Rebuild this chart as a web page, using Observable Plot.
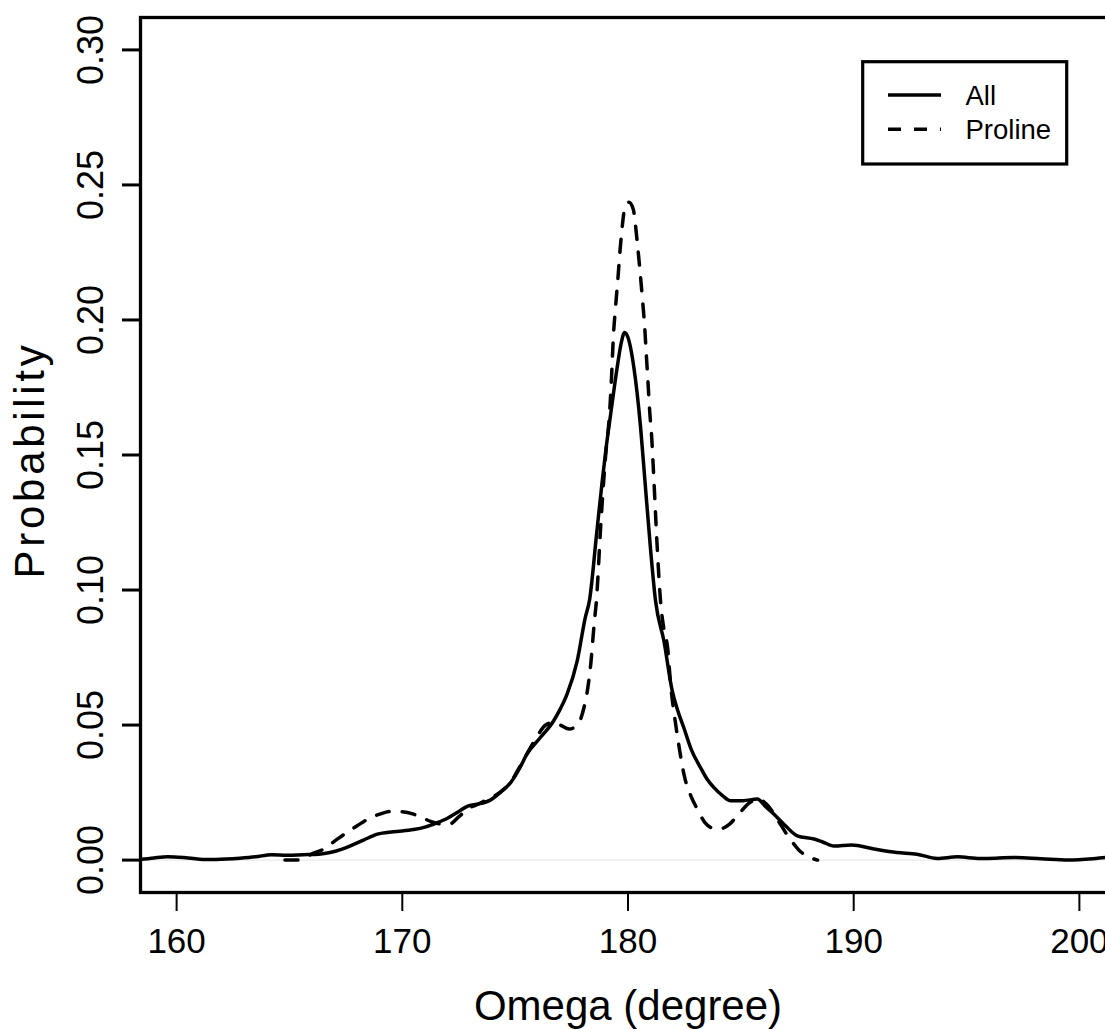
<!DOCTYPE html>
<html>
<head>
<meta charset="utf-8">
<script src="https://cdn.jsdelivr.net/npm/d3@7"></script>
<script src="https://cdn.jsdelivr.net/npm/@observablehq/plot@0.6"></script>
<style>
  html, body { margin: 0; padding: 0; overflow: hidden; background: #fff; }
  #wrap { position: relative; width: 1105px; height: 1030px; overflow: hidden; }
  #chart { width: 1120px; }
  #chart svg { max-width: none !important; }
  #legend { position: absolute; left: 0; top: 0; }
</style>
</head>
<body>
<div id="wrap"><div id="chart"></div><svg id="legend" width="1105" height="200"></svg></div>
<script>
// ---- data ----
const seriesNames = ["All", "Proline"];
const seriesDash = ["none", "13,13"];

const allX = [158.2,159.0,159.6,160.5,161.4,162.2,162.8,163.5,164.2,164.9,165.6,166.3,166.8,167.3,167.7,168.3,168.9,169.6,170.5,171.0,171.5,172.0,172.5,172.9,173.5,173.9,174.4,174.8,175.2,175.5,176.1,176.7,177.0,177.3,177.75,178.1,178.3,178.6,178.86,179.05,179.23,179.52,179.7,179.85,180.0,180.26,180.56,180.75,181.0,181.22,181.59,181.96,182.2,182.47,182.8,183.21,183.5,183.8,184.2,184.54,185.1,185.73,186.1,186.47,187.0,187.5,188.24,188.6,189.13,189.9,190.9,191.9,192.8,193.7,194.6,195.6,196.3,197.1,198.3,199.5,200.6,201.2,201.8];
const allY = [0.0000,0.0008,0.0012,0.0008,0.0002,0.0004,0.0007,0.0012,0.0020,0.0018,0.0020,0.0022,0.0028,0.0040,0.0053,0.0075,0.0096,0.0105,0.0113,0.0122,0.0137,0.0155,0.0180,0.0200,0.0210,0.0222,0.0255,0.0287,0.0340,0.0390,0.0452,0.0515,0.0560,0.0615,0.0738,0.0895,0.0965,0.1200,0.1405,0.1540,0.1650,0.1824,0.1915,0.1954,0.1935,0.1824,0.1600,0.1405,0.1150,0.0960,0.0812,0.0627,0.0555,0.0491,0.0410,0.0343,0.0300,0.0269,0.0238,0.0220,0.0220,0.0226,0.0198,0.0170,0.0125,0.0090,0.0078,0.0068,0.0052,0.0056,0.0041,0.0028,0.0022,0.0006,0.0012,0.0006,0.0007,0.0010,0.0005,0.0000,0.0005,0.0010,0.0013];

const prolineX = [164.8,165.3,165.7,166.0,166.5,167.0,167.5,168.0,168.5,169.0,169.5,170.0,170.5,170.9,171.3,171.7,172.1,172.5,172.9,173.3,173.7,174.1,174.5,174.8,175.1,175.5,176.0,176.35,176.7,177.0,177.4,177.7,177.9,178.05,178.2,178.35,178.5,178.6,178.8,179.0,179.2,179.27,179.35,179.45,179.55,179.65,179.75,179.87,180.04,180.23,180.41,180.53,180.64,180.74,180.81,180.89,180.96,181.05,181.12,181.3,181.44,181.6,181.75,181.9,182.1,182.3,182.5,182.8,183.07,183.4,183.9,184.2,184.5,184.9,185.4,185.8,186.1,186.4,186.7,187.0,187.3,187.6,188.0,188.4];
const prolineY = [0.0000,0.0000,0.0010,0.0023,0.0040,0.0070,0.0100,0.0127,0.0153,0.0170,0.0180,0.0179,0.0170,0.0156,0.0142,0.0134,0.0134,0.0160,0.0190,0.0205,0.0222,0.0238,0.0262,0.0287,0.0330,0.0390,0.0462,0.0500,0.0510,0.0500,0.0485,0.0498,0.0522,0.0565,0.0627,0.0726,0.0874,0.0960,0.1250,0.1490,0.1676,0.1787,0.1935,0.2050,0.2150,0.2260,0.2350,0.2420,0.2436,0.2411,0.2287,0.2183,0.2078,0.1973,0.1874,0.1763,0.1664,0.1565,0.1454,0.1150,0.0960,0.0850,0.0790,0.0640,0.0510,0.0400,0.0310,0.0235,0.0189,0.0140,0.0115,0.0118,0.0133,0.0170,0.0213,0.0226,0.0210,0.0180,0.0140,0.0100,0.0065,0.0035,0.0012,0.0000];

const xTicks = [160, 170, 180, 190, 200];
const yTicks = [0, 0.05, 0.10, 0.15, 0.20, 0.25, 0.30];
const xLim = [160, 200];
const yLim = [0, 0.30];
const xLabel = "Omega (degree)";
const yLabel = "Probability";

// ---- build table ----
const rows = [
  ...allX.map((x, i) => ({series: seriesNames[0], x, y: allY[i]})),
  ...prolineX.map((x, i) => ({series: seriesNames[1], x, y: prolineY[i]}))
];
// R-style 4% axis extension
const ext = (l) => { const r = l[1] - l[0]; return [l[0] - 0.04 * r, l[1] + 0.04 * r]; };

const font = "'Liberation Sans', Arial, Helvetica, sans-serif";

const chart = Plot.plot({
  width: 1120,
  height: 1030,
  marginLeft: 140,
  marginRight: 5,
  marginTop: 17,
  marginBottom: 138,
  style: {fontFamily: font, background: "#fff", color: "#000", overflow: "visible", maxWidth: "none"},
  x: {domain: ext(xLim)},
  y: {domain: ext(yLim)},
  marks: [
    Plot.ruleY([0], {stroke: "#e3e3e3", strokeWidth: 1}),
    Plot.line(rows.filter(d => d.series === seriesNames[0]), {
      x: "x", y: "y", stroke: "#000", strokeWidth: 3.5, curve: "monotone-x", clip: true
    }),
    Plot.line(rows.filter(d => d.series === seriesNames[1]), {
      x: "x", y: "y", stroke: "#000", strokeWidth: 3.5, strokeDasharray: seriesDash[1], curve: "monotone-x", clip: true
    }),
    Plot.frame({stroke: "#000", strokeWidth: 3.3}),
    Plot.axisX({ticks: xTicks, tickSize: 19, tickPadding: 17, strokeWidth: 2, fontSize: 35, tickFormat: d => String(d), label: null}),
    Plot.axisY({ticks: yTicks, tickSize: 18, strokeWidth: 3, tickFormat: () => "", label: null}),
    Plot.text(yTicks, {
      y: d => d, text: d => d.toFixed(2), frameAnchor: "left", dx: -38,
      rotate: -90, textAnchor: "middle", lineAnchor: "bottom", fontSize: 36, fill: "#000"
    }),
    Plot.text([xLabel], {
      text: d => d, frameAnchor: "bottom", dy: 127, lineAnchor: "bottom", fontSize: 42, fill: "#000"
    }),
    Plot.text([yLabel], {
      text: d => d, frameAnchor: "left", dx: -97, dy: 5, rotate: -90, lineAnchor: "bottom",
      textAnchor: "middle", fontSize: 42, fill: "#000"
    })
  ]
});
document.getElementById("chart").appendChild(chart);
// widen the y-axis title's letter spacing to match the reference
d3.select(chart).selectAll("text").filter(function () { return this.textContent === yLabel; })
  .style("letter-spacing", "3.7px");

// ---- legend (inside the plot, top-right) ----
const lg = d3.select("#legend");
lg.append("rect").attr("x", 862.7).attr("y", 61.7).attr("width", 204).attr("height", 102.3)
  .attr("fill", "#fff").attr("stroke", "#000").attr("stroke-width", 3.2);
seriesNames.forEach((name, i) => {
  const cy = 95 + i * 34.3;
  lg.append("line").attr("x1", 888).attr("x2", 941).attr("y1", cy).attr("y2", cy)
    .attr("stroke", "#000").attr("stroke-width", 3.5)
    .attr("stroke-dasharray", seriesDash[i] === "none" ? null : seriesDash[i]);
  lg.append("text").attr("x", 965.5).attr("y", cy + 10)
    .attr("font-family", font).attr("font-size", 27.5).attr("fill", "#000").text(name);
});
</script>
</body>
</html>
